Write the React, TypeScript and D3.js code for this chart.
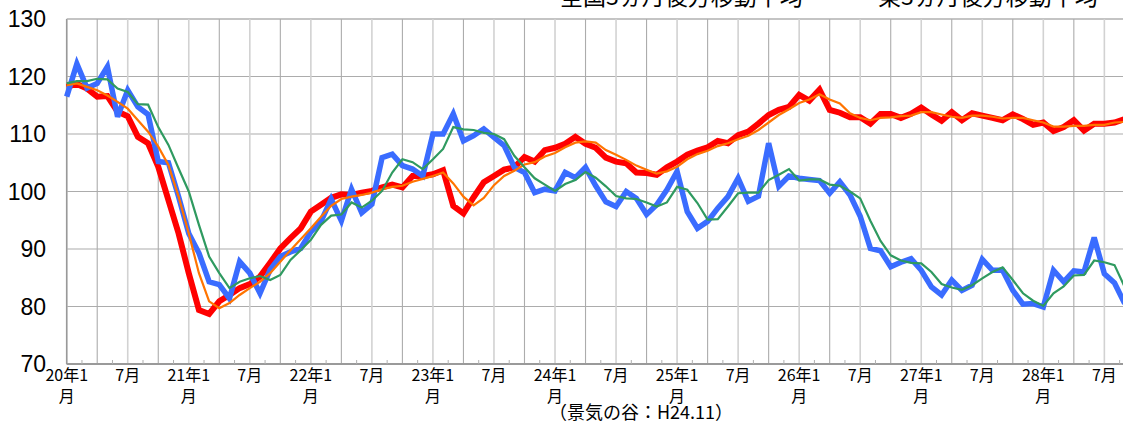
import React from "react";
import * as d3 from "d3";

// months from 2020/1 (index 0) to 2028/9 (index 104)
const startYear = 20;

// 全国 (red, thick)
const zenkoku = [
  118.2, 118.7, 117.9, 116.5, 116.6, 113.9, 113.1, 109.5, 108.4, 104.3, 98.5, 92.7,
  85.8, 79.4, 78.7, 80.9, 82.0, 83.2, 83.9, 85.2, 87.6, 90.1, 91.9, 93.6,
  96.5, 97.7, 98.9, 99.5, 99.4, 99.8, 100.1, 100.7, 101.2, 100.7, 102.7, 102.7,
  103.0, 103.7, 97.5, 96.2, 99.0, 101.6, 102.7, 103.8, 104.2, 106.0, 105.2, 107.2,
  107.6, 108.3, 109.5, 108.3, 107.6, 105.9, 105.2, 104.9, 103.3, 103.2, 102.9, 104.2,
  105.2, 106.4, 107.1, 107.7, 108.8, 108.4, 109.8, 110.4, 111.8, 113.3, 114.2, 114.7,
  116.8, 115.8, 117.7, 114.2, 113.7, 112.9, 112.9, 111.8, 113.5, 113.5, 112.8, 113.5,
  114.6, 113.4, 112.3, 113.8, 112.4, 113.6, 113.2, 112.8, 112.4, 113.4, 112.6, 111.6,
  112.0, 110.5, 111.2, 112.4, 110.6, 111.8, 111.8, 112.0, 112.6,
];

// 全国3ヵ月後方移動平均 (orange, thin)
const zenkokuAvg = [
  118.5, 118.8, 118.2, 117.6, 116.7, 115.6, 114.4, 112.4, 110.4, 107.8, 104.6, 99.1,
  92.7, 85.8, 80.9, 79.7, 80.6, 82.0, 83.2, 84.3, 85.8, 87.8, 89.8, 91.7,
  93.6, 95.6, 97.5, 98.7, 99.1, 99.4, 99.8, 100.4, 100.8, 101.0, 101.7, 102.2,
  102.7, 103.3, 101.4, 99.1, 97.6, 98.9, 101.1, 102.7, 103.6, 104.7, 105.1, 106.1,
  106.7, 107.7, 108.5, 108.7, 108.5, 107.2, 106.4, 105.5, 104.5, 103.8, 103.1, 103.5,
  104.3, 105.6, 106.5, 107.1, 107.9, 108.4, 109.1, 109.7, 110.7, 112.0, 113.3, 114.3,
  115.4, 116.0, 116.9, 116.0, 115.3, 113.6, 112.8, 112.4, 112.8, 112.9, 113.1, 113.2,
  113.8, 113.8, 113.4, 113.0, 112.8, 113.2, 113.2, 113.0, 112.7, 112.8, 112.8, 112.4,
  112.0, 111.3, 111.3, 111.4, 111.4, 111.6, 111.6, 112.0, 112.1,
];

// 東 (blue, thick)
const higashi = [
  116.5, 122.2, 118.0, 118.8, 121.7, 113.0, 117.6, 114.7, 113.4, 105.2, 105.0, 99.1,
  92.7, 89.3, 84.3, 83.8, 81.4, 87.8, 85.8, 82.3, 86.4, 88.7, 89.5, 90.1,
  93.0, 94.8, 98.7, 94.9, 100.4, 96.3, 97.8, 105.9, 106.5, 104.5, 103.9, 102.7,
  110.0, 110.0, 113.5, 108.8, 109.7, 110.9, 109.4, 108.0, 104.2, 103.3, 99.8, 100.4,
  100.1, 103.3, 102.4, 104.2, 101.0, 98.2, 97.4, 100.0, 98.8, 96.0, 97.7, 100.3,
  103.5, 96.5, 93.6, 94.8, 97.1, 99.1, 102.3, 98.3, 99.2, 108.4, 100.9, 102.7,
  102.3, 102.1, 101.9, 99.7, 101.7, 99.4, 95.7, 90.1, 89.7, 86.9, 87.7, 88.3,
  86.3, 83.4, 82.0, 84.6, 82.8, 83.7, 88.2, 86.3, 86.3, 82.8, 80.4, 80.5,
  79.9, 86.3, 84.3, 86.2, 86.0, 92.0, 85.7, 84.1, 80.5,
];

// 東3ヵ月後方移動平均 (green, thin)
const higashiAvg = [
  118.8, 119.2, 119.2, 119.6, 119.5, 117.9, 117.3, 115.2, 115.1, 111.2, 108.1, 104.0,
  100.0, 94.2, 88.7, 85.8, 83.2, 84.3, 84.9, 85.3, 84.6, 85.5, 88.1, 89.8,
  91.6, 94.2, 95.8, 96.0, 98.1, 97.2, 98.4, 100.1, 103.3, 105.6, 105.1, 103.9,
  105.6, 107.4, 111.2, 110.8, 110.7, 110.2, 110.0, 109.1, 106.2, 104.2, 102.3, 101.2,
  100.1, 101.3, 102.0, 103.4, 102.4, 100.9, 99.2, 98.8, 98.7, 98.1, 97.4, 98.1,
  100.8, 100.3, 98.0, 95.1, 95.2, 97.4, 99.7, 99.8, 99.8, 102.0, 102.9, 103.9,
  101.9, 102.1, 102.1, 101.2, 101.0, 100.0, 98.8, 94.9, 91.4, 88.9, 88.0, 87.6,
  87.5, 86.0, 83.9, 83.3, 82.9, 83.7, 84.9, 86.0, 86.8, 84.6, 82.3, 81.0,
  80.1, 82.3, 83.5, 85.4, 85.5, 88.0, 87.7, 87.2, 83.4,
];

const yTicks = [70, 80, 90, 100, 110, 120, 130];
const legendLabels = ["全国3ヵ月後方移動平均", "東3ヵ月後方移動平均"];
const note = "（景気の谷：H24.11）";

const W = 1123;
const H = 423;
const nMonths = zenkoku.length;

const x = d3.scaleLinear().domain([0, 104]).range([66.7, 1124.7]);
const y = d3.scaleLinear().domain([70, 130]).range([364, 19]);

const line = d3
  .line<number>()
  .x((d, i) => x(i))
  .y((d) => y(d))
  .curve(d3.curveLinear);

const series = [
  { data: zenkoku, color: "#ff0000", width: 6 },
  { data: higashi, color: "#3a6cff", width: 5.5 },
  { data: zenkokuAvg, color: "#ff7400", width: 2.2 },
  { data: higashiAvg, color: "#2f9a60", width: 2.2 },
];

const jp = "'Noto Sans CJK JP', 'Noto Sans', sans-serif";
const num = "'Liberation Sans', Arial, sans-serif";

export default function App() {
  const gridMonths = d3.range(0, nMonths, 3);
  const minorTicks = d3.range(1.5, nMonths, 3);
  const [x0, x1] = x.range();

  return (
    <svg
      width={W}
      height={H}
      style={{ position: "absolute", left: 0, top: 0, background: "#fff" }}
    >
      <rect width={W} height={H} fill="#fff" />

      {/* legend, cut off by the top edge */}
      <text x={560} y={4.5} fontFamily={jp} fontSize={23} fill="#000">
        {legendLabels[0]}
      </text>
      <text x={878} y={4.5} fontFamily={jp} fontSize={23} fill="#000">
        {legendLabels[1]}
      </text>

      {/* horizontal gridlines */}
      {yTicks.map((t) => (
        <line
          key={"h" + t}
          x1={x0}
          x2={x1}
          y1={y(t)}
          y2={y(t)}
          stroke={t === 130 ? "#c4c4c4" : "#acacac"}
          strokeWidth={t === 130 || t === 70 ? 2 : 1.2}
        />
      ))}

      {/* vertical gridlines */}
      {gridMonths.map((m) => (
        <line
          key={"v" + m}
          x1={x(m)}
          x2={x(m)}
          y1={y(130)}
          y2={y(70)}
          stroke={m % 6 === 0 ? "#d2d2d2" : "#acacac"}
          strokeWidth={m % 6 === 0 ? 1.6 : 1.1}
        />
      ))}

      {/* axes */}
      <line x1={x0} x2={x0} y1={y(130)} y2={y(70)} stroke="#999" strokeWidth={1.5} />
      <line x1={x0} x2={x1} y1={y(70)} y2={y(70)} stroke="#9a9a9a" strokeWidth={2} />
      {minorTicks.map((m) => (
        <line
          key={"t" + m}
          x1={x(m)}
          x2={x(m)}
          y1={y(70)}
          y2={y(70) - 4}
          stroke="#b0b0b0"
          strokeWidth={1}
        />
      ))}

      {/* y tick labels */}
      {yTicks.map((t) => (
        <text
          key={"yl" + t}
          x={46}
          y={y(t)}
          dy="0.36em"
          textAnchor="end"
          fontFamily={num}
          fontSize={23}
          fill="#000"
        >
          {t}
        </text>
      ))}

      {/* x tick labels */}
      {d3.range(0, nMonths, 6).map((m) => {
        const isJan = m % 12 === 0;
        const yr = startYear + m / 12;
        return (
          <g key={"xl" + m} fontFamily={jp} fontSize={16} fill="#000" textAnchor="middle">
            {isJan ? (
              <>
                <text x={x(m)} y={381}>{`${yr}年1`}</text>
                <text x={x(m)} y={402}>月</text>
              </>
            ) : (
              <text x={x(m)} y={381}>7月</text>
            )}
          </g>
        );
      })}

      {/* series */}
      {series.map((s, i) => (
        <path
          key={"s" + i}
          d={line(s.data) || ""}
          fill="none"
          stroke={s.color}
          strokeWidth={s.width}
          strokeLinejoin="miter"
          strokeMiterlimit={3}
        />
      ))}

      <text x={549} y={419} fontFamily={jp} fontSize={18} fill="#000">
        {note}
      </text>
    </svg>
  );
}
